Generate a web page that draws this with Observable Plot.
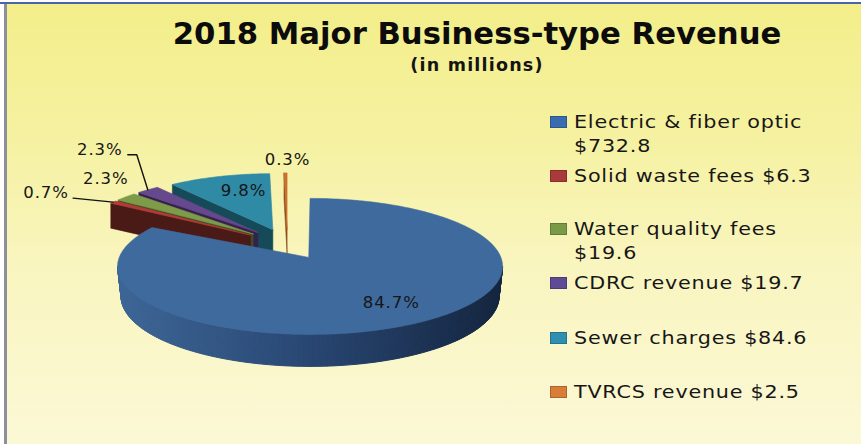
<!DOCTYPE html>
<html>
<head>
<meta charset="utf-8">
<script src="https://cdn.jsdelivr.net/npm/d3@7"></script>
<script src="https://cdn.jsdelivr.net/npm/@observablehq/plot@0.6"></script>
<style>
  html, body { margin: 0; padding: 0; background: #fff; }
  #page { position: relative; width: 861px; height: 444px; overflow: hidden; font-family: "DejaVu Sans", sans-serif; color: #161616;
    background: linear-gradient(180deg, #f3ee89 0%, #f5f1a0 30%, #f9f5bf 60%, #fbf8d6 100%); }
  #page svg { position: absolute; left: 0; top: 0; }
  #page svg text { letter-spacing: 0.9px; }
  #frameTop { position: absolute; left: 0; top: 0; width: 861px; height: 2px; background: #fff; border-bottom: 2px solid #4a63ad; }
  #frameLeft { position: absolute; left: 0; top: 4px; width: 4px; height: 440px; background: #fff; border-right: 3px solid #8d8f9c; }
  #title { position: absolute; left: 0; width: 954px; top: 16px; text-align: center; font-weight: bold; font-size: 30.7px; line-height: 36px; white-space: nowrap; color: #0c0c0c; }
  #subtitle { position: absolute; left: 0; width: 954px; top: 55px; text-align: center; font-weight: bold; font-size: 17.5px; line-height: 20px; white-space: nowrap; letter-spacing: 1.2px; color: #141414; }
  .entry { position: absolute; left: 574px; width: 280px; font-size: 18px; line-height: 24px; letter-spacing: .68px; white-space: nowrap; transform: scaleX(1.15); transform-origin: left top; }
  .swatch { position: absolute; left: 550px; width: 17px; height: 12px; box-sizing: border-box; border: 1px solid rgba(0,0,0,.2); }
</style>
</head>
<body>
<div id="page">
  <div id="frameTop"></div>
  <div id="frameLeft"></div>
  <div id="title">2018 Major Business-type Revenue</div>
  <div id="subtitle">(in millions)</div>
</div>
<script>
const categories = ["Electric & fiber optic", "Solid waste fees", "Water quality fees", "CDRC revenue", "Sewer charges", "TVRCS revenue"];
const revenue = [732.8, 6.3, 19.6, 19.7, 84.6, 2.5];
const moneyLabels = ["$732.8", "$6.3", "$19.6", "$19.7", "$84.6", "$2.5"];

const topColors = ["#3f6a9e", "#b23b38", "#7d9b48", "#66488c", "#2f8aa6", "#c9702f"];
const wallColors = ["#284672", "#4a1a16", "#3d4f20", "#35204f", "#174a58", "#8a4a1c"];
const swatchColors = ["#3a6cb0", "#a83a3c", "#7a9a48", "#5f4a95", "#2f8fb0", "#d97c38"];

// Layout of the tilted, exploded pie
const hub = {x: 287, y: 243.5}, explode = 0.27;
const back = {rx: 170, ry: 56, depth: 25};
const front = {rx: 192.5, ry: 68, dx: 1.3, dy: 9, depth: 30, bottomRx: 189, bottomRy: 70};
// Label anchors relative to each slice's outer-arc midpoint
const labelShift = [[-8, -24], [-67, -9.5], [-20, -18], [-48, -40], [25, 14], [2, -13]];
const legendTop = [{y: 122, lines: 2}, {y: 176, lines: 1}, {y: 229, lines: 2}, {y: 283, lines: 1}, {y: 338, lines: 1}, {y: 392, lines: 1}];

const total = d3.sum(revenue);
const pct = d3.format(".1%");
const arcs = d3.pie().sort(null).value(d => d)(revenue);

function apex(a) {
  const mid = (a.startAngle + a.endAngle) / 2;
  return {x: hub.x + explode * back.rx * Math.sin(mid), y: hub.y - explode * back.ry * Math.cos(mid)};
}
function rimPoint(a, t) {
  const p = apex(a);
  if (a.index === 0) return {x: p.x + front.dx + front.rx * Math.sin(t), y: p.y + front.dy - front.ry * Math.cos(t)};
  return {x: p.x + back.rx * Math.sin(t), y: p.y - back.ry * Math.cos(t)};
}
function arcPoints(a, step = 0.02) {
  const out = [];
  const n = Math.max(2, Math.ceil((a.endAngle - a.startAngle) / step));
  for (let i = 0; i <= n; i++) out.push(rimPoint(a, a.startAngle + (a.endAngle - a.startAngle) * i / n));
  return out;
}
function topFace(a) { const p = apex(a); return [p, ...arcPoints(a), p]; }
function startWall(a) {
  const p = apex(a), r = rimPoint(a, a.startAngle);
  return [p, r, {x: r.x, y: r.y + back.depth}, {x: p.x, y: p.y + back.depth}, p];
}
const face = (pts, color, w = 0.6) => Plot.line(pts, {x: "x", y: "y", fill: color, stroke: color, strokeWidth: w});

// Painter's order: back slices from the right to the left, then the big front slice
const order = [4, 3, 2, 1, 5];
const marks = [];
for (const i of order) {
  marks.push(face(startWall(arcs[i]), wallColors[i]));
  marks.push(face(topFace(arcs[i]), topColors[i]));
}

// Front slice rim wall, shaded in narrow bands from left to right
const bandColor = d3.scaleLinear().domain([0, 0.5, 1]).range(["#3d6696", "#284672", "#14253f"]).interpolate(d3.interpolateRgb);
const main = arcs[0], mainApex = apex(main);
const cx = mainApex.x + front.dx, cy = mainApex.y + front.dy;
const nBands = 180;
const toRim = t => ({x: cx + front.rx * Math.sin(t), y: cy - front.ry * Math.cos(t)});
const toFloor = t => ({x: cx + front.bottomRx * Math.sin(t), y: cy + front.depth - front.bottomRy * Math.cos(t)});
for (let i = 0; i < nBands; i++) {
  const a0 = 1.5 * Math.PI - Math.PI * i / nBands, a1 = 1.5 * Math.PI - Math.PI * (i + 1) / nBands;
  const pts = [toRim(a0), toRim(a1), toFloor(a1), toFloor(a0), toRim(a0)];
  marks.push(face(pts, bandColor((toRim(a0).x - (cx - front.rx)) / (2 * front.rx)), 1));
}
marks.push(face(topFace(main), topColors[0]));

// Percentage labels and leader lines
const labels = arcs.map((a, i) => {
  const m = rimPoint(a, (a.startAngle + a.endAngle) / 2);
  return {text: pct(a.value / total), rim: m, x: m.x + labelShift[i][0], y: m.y + labelShift[i][1]};
});
marks.push(Plot.line([{x: labels[1].x + 27, y: labels[1].y + 5.5}, labels[1].rim], {x: "x", y: "y", stroke: "#111", strokeWidth: 1.4}));
marks.push(Plot.line([{x: labels[3].x + 28, y: labels[3].y + 5}, {x: labels[3].x + 37, y: labels[3].y + 5}, labels[3].rim], {x: "x", y: "y", stroke: "#111", strokeWidth: 1.4}));
marks.push(Plot.text(labels, {x: "x", y: "y", text: "text", fontSize: 16.5, fontFamily: "DejaVu Sans", fill: "#161616", textAnchor: "middle"}));

const chart = Plot.plot({
  width: 861, height: 444, margin: 0,
  x: {domain: [0, 861], range: [0, 861], axis: null},
  y: {domain: [0, 444], range: [0, 444], axis: null},
  style: {background: "transparent", overflow: "visible"},
  marks
});
document.getElementById("page").appendChild(chart);

// Legend
const page = document.getElementById("page");
categories.forEach((c, i) => {
  const sw = document.createElement("div");
  sw.className = "swatch";
  sw.style.top = (legendTop[i].y - 6) + "px";
  sw.style.background = swatchColors[i];
  page.appendChild(sw);
  const e = document.createElement("div");
  e.className = "entry";
  e.style.top = (legendTop[i].y - 12) + "px";
  if (legendTop[i].lines === 2) {
    e.append(c, document.createElement("br"), moneyLabels[i]);
  } else {
    e.append(c + " " + moneyLabels[i]);
  }
  page.appendChild(e);
});
</script>
</body>
</html>
